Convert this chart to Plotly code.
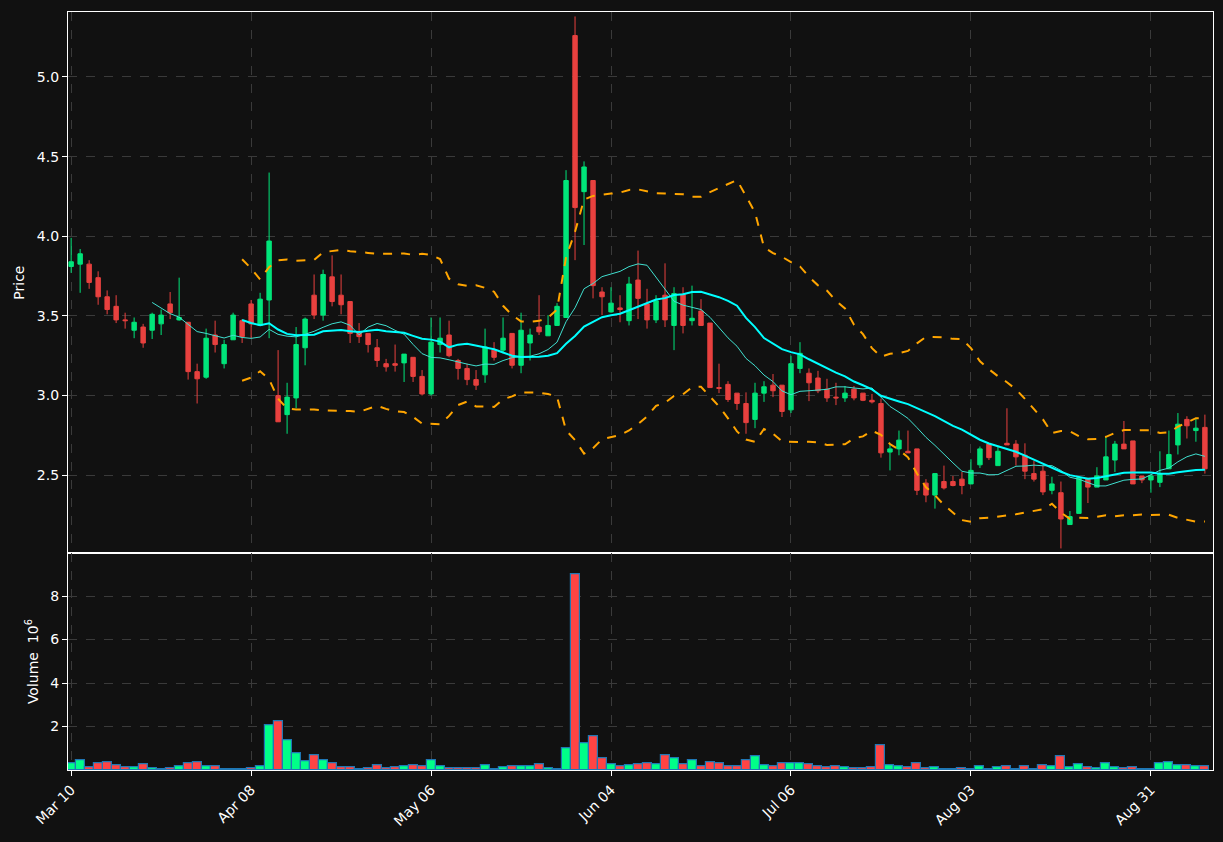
import numpy as np
import pandas as pd
import plotly.graph_objects as go
from plotly.subplots import make_subplots

opens = [3.81,3.825,3.825,3.74,3.62,3.56,3.475,3.41,3.43,3.41,3.45,3.575,3.475,3.46,3.15,3.115,3.38,3.20,3.35,3.47,
         3.575,3.44,3.60,3.0,2.88,2.985,3.30,3.63,3.505,3.745,3.63,3.59,3.40,3.39,3.30,3.20,3.20,3.205,3.24,3.12,
         3.01,3.32,3.38,3.22,3.17,3.10,3.13,3.285,3.285,3.39,3.19,3.33,3.43,3.375,3.44,3.49,5.26,4.28,4.35,3.65,
         3.525,3.55,3.47,3.725,3.575,3.475,3.63,3.44,3.635,3.47,3.53,3.455,3.05,3.07,3.015,2.95,2.85,3.015,3.065,3.065,
         2.91,3.17,3.14,3.11,3.04,2.99,2.985,3.04,3.015,2.97,2.95,2.645,2.665,2.65,2.665,2.45,2.375,2.46,2.46,2.475,
         2.445,2.565,2.695,2.56,2.70,2.695,2.625,2.51,2.525,2.405,2.39,2.19,2.26,2.48,2.425,2.47,2.595,2.695,2.715,2.495,
         2.47,2.455,2.54,2.69,2.85,2.78,2.80]
highs = [3.99,3.92,3.85,3.78,3.66,3.63,3.52,3.49,3.45,3.52,3.54,3.65,3.74,3.46,3.20,3.42,3.47,3.35,3.52,3.48,
         3.60,3.645,4.40,3.285,3.08,3.43,3.49,3.76,3.79,3.88,3.76,3.59,3.455,3.39,3.355,3.23,3.32,3.26,3.24,3.16,
         3.49,3.49,3.47,3.23,3.20,3.16,3.42,3.335,3.49,3.39,3.52,3.42,3.63,3.505,3.58,4.415,5.38,4.47,4.35,3.68,
         3.68,3.63,3.745,3.91,3.67,3.63,3.83,3.68,3.68,3.69,3.605,3.455,3.20,3.09,3.015,3.02,3.08,3.09,3.135,3.065,
         3.25,3.335,3.17,3.155,3.105,3.08,3.06,3.06,3.015,3.01,2.98,2.695,2.78,2.78,2.665,2.475,2.51,2.56,2.495,2.52,
         2.60,2.68,2.695,2.68,2.92,2.72,2.70,2.59,2.56,2.49,2.46,2.275,2.485,2.48,2.55,2.74,2.715,2.84,2.715,2.495,
         2.505,2.65,2.78,2.89,2.87,2.86,2.88]
lows = [3.77,3.645,3.67,3.57,3.51,3.455,3.42,3.36,3.30,3.355,3.38,3.48,3.47,3.10,2.95,3.105,3.27,3.17,3.35,3.33,
        3.36,3.44,3.36,2.835,2.76,2.92,3.19,3.48,3.47,3.56,3.51,3.33,3.33,3.27,3.18,3.15,3.15,3.085,3.085,3.0,
        3.0,3.27,3.24,3.10,3.065,3.035,3.08,3.22,3.265,3.17,3.14,3.22,3.38,3.375,3.44,3.49,3.85,3.945,3.61,3.505,
        3.52,3.46,3.44,3.48,3.42,3.455,3.43,3.285,3.39,3.44,3.44,3.05,3.015,2.96,2.91,2.76,2.795,2.96,2.99,2.865,
        2.89,3.14,2.965,3.015,2.96,2.94,2.96,2.97,2.965,2.95,2.61,2.53,2.625,2.64,2.375,2.33,2.29,2.41,2.43,2.38,
        2.445,2.545,2.595,2.56,2.69,2.56,2.475,2.46,2.375,2.38,2.04,2.19,2.26,2.325,2.425,2.47,2.52,2.665,2.445,2.45,
        2.39,2.425,2.54,2.63,2.73,2.71,2.51]
closes = [3.84,3.89,3.71,3.62,3.54,3.475,3.47,3.46,3.33,3.51,3.505,3.52,3.49,3.15,3.105,3.36,3.32,3.32,3.505,3.37,
          3.45,3.605,3.97,2.835,2.99,3.32,3.48,3.505,3.76,3.59,3.57,3.39,3.37,3.32,3.22,3.18,3.19,3.26,3.12,3.01,
          3.335,3.36,3.25,3.17,3.10,3.065,3.305,3.24,3.36,3.19,3.41,3.38,3.40,3.44,3.56,4.35,4.18,4.435,3.69,3.62,
          3.58,3.54,3.70,3.61,3.475,3.595,3.475,3.64,3.44,3.485,3.44,3.05,3.045,2.975,2.95,2.83,3.015,3.055,3.03,2.90,
          3.20,3.265,3.08,3.03,2.985,2.985,3.015,2.985,2.97,2.96,2.64,2.665,2.72,2.64,2.405,2.375,2.51,2.42,2.435,2.435,
          2.53,2.665,2.61,2.65,2.69,2.615,2.525,2.475,2.395,2.445,2.225,2.24,2.485,2.425,2.495,2.615,2.695,2.665,2.445,2.47,
          2.495,2.51,2.63,2.82,2.81,2.795,2.54]
volumes = [0.31,0.44,0.15,0.31,0.35,0.21,0.15,0.15,0.26,0.08,0.03,0.08,0.17,0.31,0.35,0.17,0.17,0.03,0.02,0.03,
           0.08,0.17,2.05,2.23,1.36,0.76,0.40,0.67,0.44,0.31,0.12,0.12,0.03,0.08,0.21,0.08,0.12,0.17,0.21,0.17,
           0.44,0.17,0.08,0.08,0.08,0.08,0.21,0.03,0.12,0.17,0.17,0.17,0.26,0.08,0.03,0.99,9.02,1.22,1.54,0.53,
           0.26,0.17,0.21,0.26,0.31,0.26,0.67,0.53,0.26,0.44,0.17,0.35,0.31,0.17,0.17,0.44,0.63,0.21,0.17,0.31,
           0.31,0.31,0.26,0.17,0.12,0.17,0.12,0.08,0.08,0.12,1.13,0.21,0.17,0.12,0.31,0.08,0.12,0.03,0.03,0.08,
           0.03,0.17,0.03,0.12,0.17,0.03,0.17,0.03,0.21,0.17,0.63,0.12,0.26,0.12,0.08,0.31,0.12,0.08,0.12,0.03,
           0.03,0.31,0.35,0.21,0.21,0.17,0.17]
tick_pos = [0, 20, 40, 60, 80, 100, 120]
tick_labels = ["Mar 10", "Apr 08", "May 06", "Jun 04", "Jul 06", "Aug 03", "Aug 31"]

x = list(range(len(closes)))
GREEN, RED = "#00e57a", "#e8413f"
s = pd.Series(closes)
ma10 = s.rolling(10).mean()
ma20 = s.rolling(20).mean()
sd20 = s.rolling(20).std(ddof=0)
upper, lower = ma20 + 2 * sd20, ma20 - 2 * sd20

fig = make_subplots(rows=2, cols=1, shared_xaxes=True, vertical_spacing=0, row_heights=[0.714, 0.286])
fig.add_trace(go.Candlestick(x=x, open=opens, high=highs, low=lows, close=closes,
                             increasing=dict(line=dict(color=GREEN, width=1), fillcolor=GREEN),
                             decreasing=dict(line=dict(color=RED, width=1), fillcolor=RED),
                             whiskerwidth=0, showlegend=False), row=1, col=1)
fig.add_trace(go.Scatter(x=x, y=ma10, mode="lines", line=dict(color="#40e0d0", width=1), showlegend=False), row=1, col=1)
fig.add_trace(go.Scatter(x=x, y=ma20, mode="lines", line=dict(color="#00ffff", width=2), showlegend=False), row=1, col=1)
for band in (upper, lower):
    fig.add_trace(go.Scatter(x=x, y=band, mode="lines", line=dict(color="orange", width=2, dash="dash"),
                             showlegend=False), row=1, col=1)
vcol = ["#00ff88" if c >= o else "#ff4444" for o, c in zip(opens, closes)]
fig.add_trace(go.Bar(x=x, y=volumes, width=1, marker=dict(color=vcol, line=dict(color="#1f77b4", width=1.2)),
                     showlegend=False), row=2, col=1)

grid = dict(showgrid=True, gridcolor="#3a3a3a", griddash="dash", gridwidth=1,
            showline=True, linecolor="white", mirror=True, linewidth=1.2,
            ticks="outside", tickcolor="white", ticklen=5, zeroline=False,
            tickfont=dict(color="white", size=14, family="DejaVu Sans"))
fig.update_xaxes(**grid, range=[-0.35, 126.9], tickvals=tick_pos, ticktext=tick_labels,
                 rangeslider_visible=False)
fig.update_xaxes(showticklabels=False, row=1, col=1)
fig.update_xaxes(tickangle=-45, row=2, col=1)
fig.update_yaxes(**grid)
fig.update_yaxes(range=[2.01, 5.408], tickvals=[2.5, 3.0, 3.5, 4.0, 4.5, 5.0], tickformat=".1f",
                 title=dict(text="Price", standoff=8, font=dict(color="white", size=14, family="DejaVu Sans")), row=1, col=1)
fig.update_yaxes(range=[0, 9.97], tickvals=[2, 4, 6, 8],
                 title=dict(text="Volume  10<sup>6</sup>", standoff=8, font=dict(color="white", size=14, family="DejaVu Sans")),
                 row=2, col=1)
fig.update_layout(width=1223, height=842, paper_bgcolor="#111111", plot_bgcolor="#111111",
                  margin=dict(l=68, r=10, t=12, b=72), bargap=0,
                  font=dict(color="white", family="DejaVu Sans", size=14))
fig.write_html("out.html", config={"displayModeBar": False})
with open("out.html", encoding="utf-8") as f:
    html = f.read()
html = html.replace("<body>", '<body style="margin:0;background:#111111;">', 1)
with open("out.html", "w", encoding="utf-8") as f:
    f.write(html)
